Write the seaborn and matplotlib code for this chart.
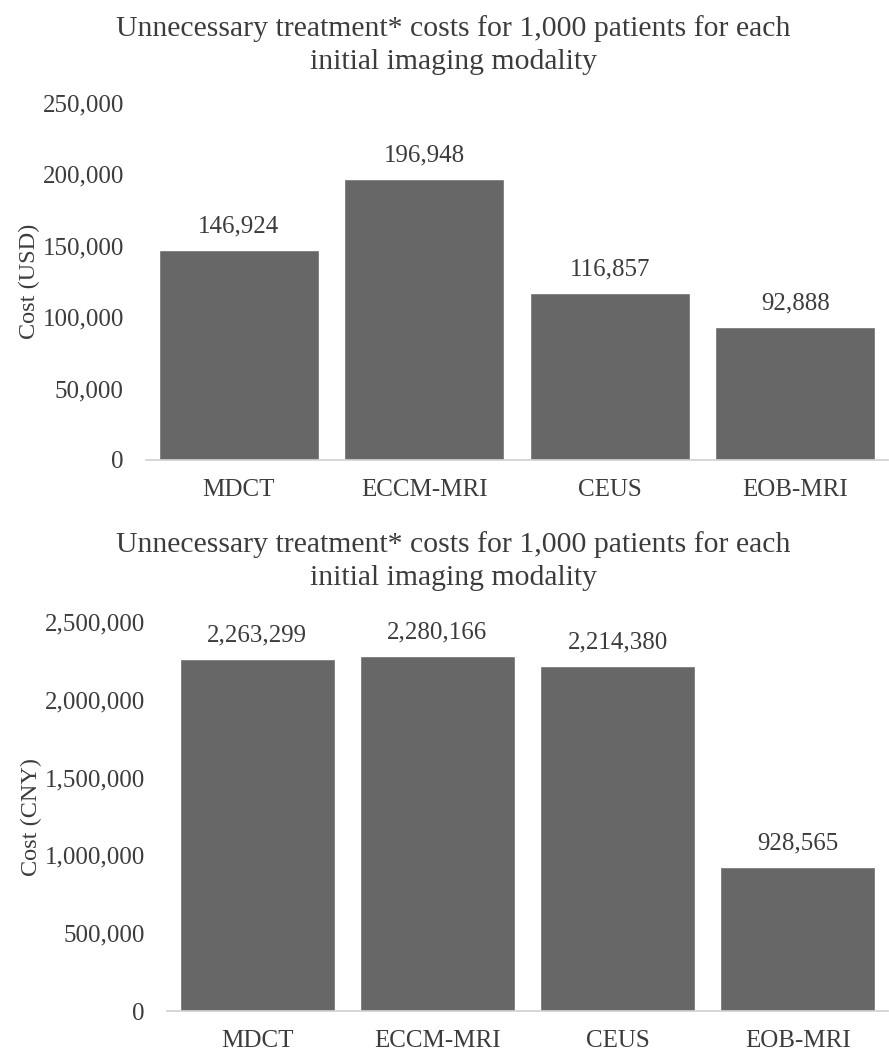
import matplotlib
matplotlib.use("Agg")
import matplotlib.pyplot as plt
import seaborn as sns
from matplotlib.ticker import FuncFormatter

modalities = ["MDCT", "ECCM-MRI", "CEUS", "EOB-MRI"]
cost_usd = [146924, 196948, 116857, 92888]
cost_cny = [2263299, 2280166, 2214380, 928565]
usd_ticks = [0, 50000, 100000, 150000, 200000, 250000]
cny_ticks = [0, 500000, 1000000, 1500000, 2000000, 2500000]
title = "Unnecessary treatment* costs for 1,000 patients for each\ninitial imaging modality"

sns.set_style("white")
plt.rcParams["font.family"] = ["Liberation Serif", "DejaVu Serif"]
TEXT = "#3c3c3c"
BAR = "#676767"

fig = plt.figure(figsize=(8.89, 10.53), dpi=100)
ax1 = fig.add_axes([146 / 889, 1 - 460 / 1053, 742 / 889, 357 / 1053])
ax2 = fig.add_axes([167 / 889, 1 - 1011 / 1053, 721 / 889, 389 / 1053])

comma = FuncFormatter(lambda v, _: f"{int(v):,}")

for ax, vals, ticks, ylab in [(ax1, cost_usd, usd_ticks, "Cost (USD)"),
                              (ax2, cost_cny, cny_ticks, "Cost (CNY)")]:
    sns.barplot(x=modalities, y=vals, color=BAR, saturation=1, width=0.86, ax=ax)
    ax.set_ylim(0, ticks[-1])
    ax.set_yticks(ticks)
    ax.yaxis.set_major_formatter(comma)
    ax.bar_label(ax.containers[0], labels=[f"{v:,}" for v in vals],
                 padding=9, fontsize=18, color=TEXT)
    ax.set_ylabel(ylab, fontsize=17.5, color=TEXT, labelpad=2)
    ax.set_xlabel("")
    ax.tick_params(axis="y", length=0, pad=16, labelsize=18, labelcolor=TEXT)
    ax.tick_params(axis="x", length=0, pad=14, labelsize=18, labelcolor=TEXT)
    for s in ["top", "right", "left"]:
        ax.spines[s].set_visible(False)
    ax.spines["bottom"].set_color("#d0d0d0")
    ax.spines["bottom"].set_linewidth(1.2)
    ax.set_xlim(-0.5, 3.5)

fig.text(0.51, 1 - 45 / 1053, title, ha="center", va="center",
         fontsize=21.4, color=TEXT, linespacing=1.35)
fig.text(0.51, 1 - 561 / 1053, title, ha="center", va="center",
         fontsize=21.4, color=TEXT, linespacing=1.35)

fig.savefig("out.png", dpi=100)
